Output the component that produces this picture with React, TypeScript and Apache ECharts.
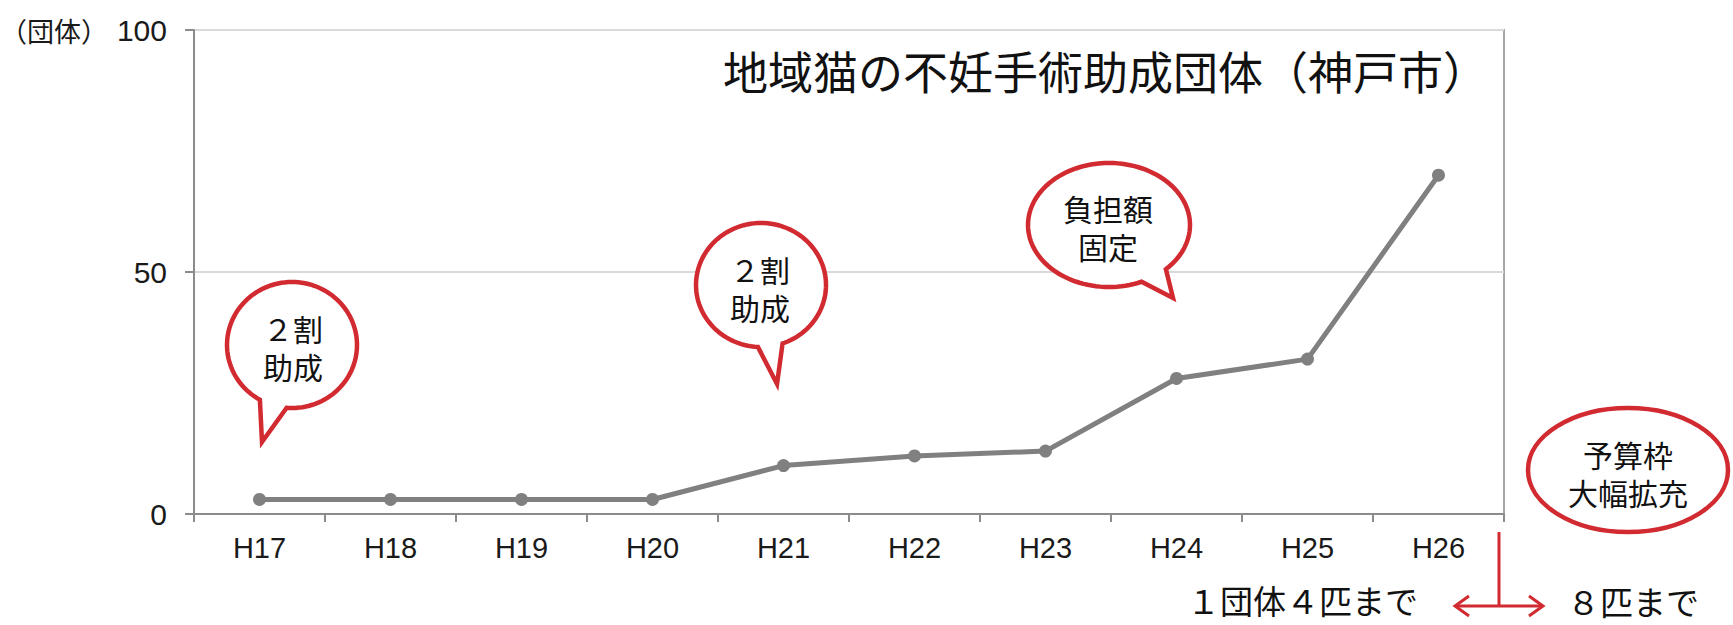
import React, { useEffect, useRef } from "react";
import * as echarts from "echarts";

// ---- data ----
const categories = ["H17", "H18", "H19", "H20", "H21", "H22", "H23", "H24", "H25", "H26"];
const groupCounts = [3, 3, 3, 3, 10, 12, 13, 28, 32, 70];
const yMin = 0;
const yMax = 100;
const yStep = 50;
const unitLabel = "（団体）";
const chartTitle = "地域猫の不妊手術助成団体（神戸市）";
const bubbleTexts = ["２割\n助成", "２割\n助成", "負担額\n固定", "予算枠\n大幅拡充"];
const noteBefore = "１団体４匹まで";
const noteAfter = "８匹まで";

const RED = "#d12a30";
const CJK = '"Noto Sans CJK JP", "Noto Sans", sans-serif';
const LAT = '"Liberation Sans", Arial, sans-serif';

function bubblePoints(
  cx: number,
  cy: number,
  rx: number,
  ry: number,
  g1: number,
  g2: number,
  tip: [number, number]
) {
  const pts: number[][] = [];
  const P = (a: number) => {
    const r = (a * Math.PI) / 180;
    return [cx + rx * Math.cos(r), cy + ry * Math.sin(r)];
  };
  for (let a = g2; a < g1 + 360; a += 3) pts.push(P(a));
  pts.push(P(g1 + 360));
  pts.push(tip);
  return pts;
}

function bubble(
  cx: number,
  cy: number,
  rx: number,
  ry: number,
  g1: number,
  g2: number,
  tip: [number, number]
) {
  return {
    type: "polygon",
    z: 100,
    shape: { points: bubblePoints(cx, cy, rx, ry, g1, g2, tip) },
    style: { fill: "#ffffff", stroke: RED, lineWidth: 4.5, lineJoin: "miter" },
  };
}

function bubbleText(x: number, y: number, text: string) {
  return {
    type: "text",
    z: 101,
    x,
    y,
    style: {
      text,
      fontSize: 30,
      fontFamily: CJK,
      fill: "#111111",
      align: "center",
      verticalAlign: "middle",
      lineHeight: 38,
    },
  };
}

export default function App() {
  const ref = useRef<HTMLDivElement>(null);

  useEffect(() => {
    if (!ref.current) return;
    const chart = echarts.init(ref.current, undefined, { renderer: "svg" });
    chart.setOption({
      animation: false,
      backgroundColor: "#ffffff",
      grid: {
        left: 194,
        right: 229,
        top: 30,
        bottom: 111,
        show: true,
        borderColor: "#a6a6a6",
        borderWidth: 2,
        backgroundColor: "transparent",
      },
      xAxis: {
        type: "category",
        data: categories,
        boundaryGap: true,
        axisLine: { show: true, lineStyle: { color: "#8c8c8c", width: 2 } },
        axisTick: { show: true, length: 8, lineStyle: { color: "#8c8c8c", width: 2 } },
        axisLabel: { fontSize: 29, fontFamily: LAT, color: "#1a1a1a", margin: 19 },
        splitLine: { show: false },
      },
      yAxis: {
        type: "value",
        min: yMin,
        max: yMax,
        interval: yStep,
        axisLine: { show: true, lineStyle: { color: "#8c8c8c", width: 2 } },
        axisTick: { show: true, length: 9, lineStyle: { color: "#8c8c8c", width: 2 } },
        axisLabel: { fontSize: 30, fontFamily: LAT, color: "#1a1a1a", margin: 27 },
        splitLine: { show: true, lineStyle: { color: "#d9d9d9", width: 2 } },
      },
      series: [
        {
          type: "line",
          data: groupCounts,
          symbol: "circle",
          symbolSize: 13,
          lineStyle: { color: "#808080", width: 5 },
          itemStyle: { color: "#808080" },
          z: 5,
        },
      ],
      graphic: [
        {
          type: "text",
          x: 0,
          y: 30,
          style: {
            text: unitLabel,
            fontSize: 27,
            fontFamily: CJK,
            fill: "#1a1a1a",
            align: "left",
            verticalAlign: "middle",
          },
        },
        {
          type: "text",
          x: 1488,
          y: 70,
          style: {
            text: chartTitle,
            fontSize: 45,
            fontFamily: CJK,
            fill: "#111111",
            align: "right",
            verticalAlign: "middle",
          },
        },
        bubble(292, 345, 65, 63, 94.7, 119.6, [262, 442]),
        bubbleText(293, 347, bubbleTexts[0]),
        bubble(761, 285, 65, 62, 70.6, 92.7, [777, 384]),
        bubbleText(760, 288, bubbleTexts[1]),
        bubble(1109, 225, 81, 62, 45.4, 66.3, [1173, 298]),
        bubbleText(1108, 227, bubbleTexts[2]),
        {
          type: "ellipse",
          z: 100,
          shape: { cx: 1628, cy: 470, rx: 100, ry: 62 },
          style: { fill: "#ffffff", stroke: RED, lineWidth: 4.5 },
        },
        bubbleText(1628, 473, bubbleTexts[3]),
        {
          type: "text",
          x: 1418,
          y: 600,
          style: {
            text: noteBefore,
            fontSize: 33,
            fontFamily: CJK,
            fill: "#111111",
            align: "right",
            verticalAlign: "middle",
          },
        },
        {
          type: "text",
          x: 1567,
          y: 601,
          style: {
            text: noteAfter,
            fontSize: 33,
            fontFamily: CJK,
            fill: "#111111",
            align: "left",
            verticalAlign: "middle",
          },
        },
        {
          type: "line",
          z: 100,
          shape: { x1: 1499, y1: 532, x2: 1499, y2: 606 },
          style: { stroke: RED, lineWidth: 3 },
        },
        {
          type: "line",
          z: 100,
          shape: { x1: 1455, y1: 606, x2: 1543, y2: 606 },
          style: { stroke: RED, lineWidth: 3 },
        },
        {
          type: "polyline",
          z: 100,
          shape: { points: [[1469, 596], [1455, 606], [1469, 616]] },
          style: { stroke: RED, lineWidth: 3, fill: "none" },
        },
        {
          type: "polyline",
          z: 100,
          shape: { points: [[1529, 596], [1543, 606], [1529, 616]] },
          style: { stroke: RED, lineWidth: 3, fill: "none" },
        },
      ],
    });
    return () => chart.dispose();
  }, []);

  return (
    <div
      ref={ref}
      style={{ position: "absolute", left: 0, top: 0, width: 1733, height: 625, background: "#fff" }}
    />
  );
}
